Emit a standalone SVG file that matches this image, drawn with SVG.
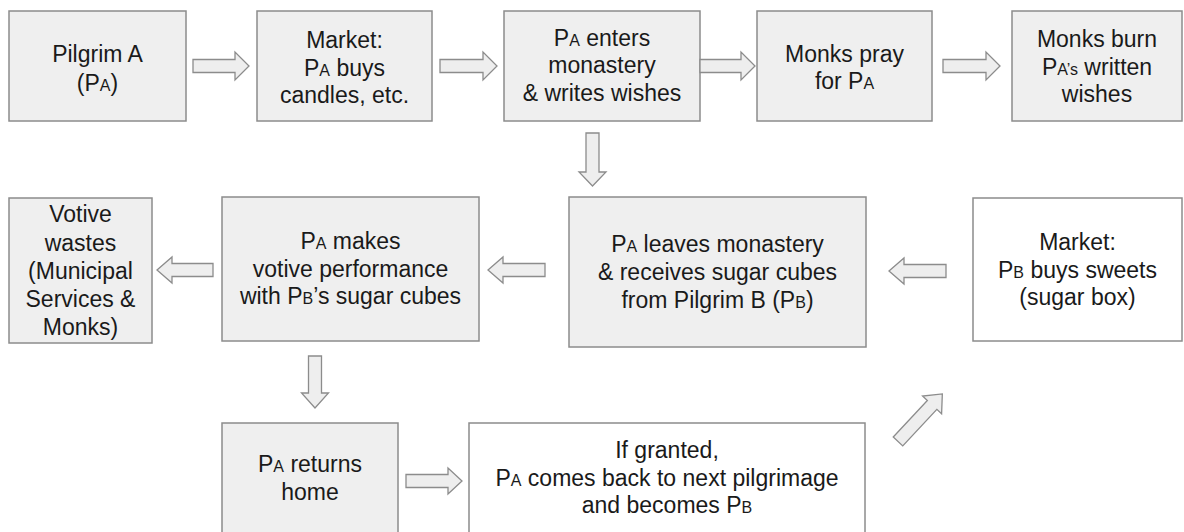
<svg xmlns="http://www.w3.org/2000/svg" width="1184" height="532" viewBox="0 0 1184 532">
<style>
.box{fill:#efefef;stroke:#8c8c8c;stroke-width:1.5}
.wbox{fill:#ffffff;stroke:#8c8c8c;stroke-width:1.5}
.arr{fill:#eeeeee;stroke:#8c8c8c;stroke-width:1.3;stroke-linejoin:miter}
text{font-family:"Liberation Sans",Arial,sans-serif;font-size:23px;fill:#1a1a1a;text-anchor:middle}
.s{font-size:16px}
</style>
<rect width="1184" height="532" fill="#ffffff"/>
<g id="n1"><rect class="box" x="9" y="11" width="177" height="110"/>
<text x="97.5" y="62">Pilgrim A</text><text x="97.5" y="91">(P<tspan class="s">A</tspan>)</text></g>
<g id="n2"><rect class="box" x="257" y="11" width="175" height="110"/>
<text x="344.5" y="48">Market:</text><text x="344.5" y="76">P<tspan class="s">A</tspan> buys</text><text x="344.5" y="103">candles, etc.</text></g>
<g id="n3"><rect class="box" x="504" y="11" width="196" height="110"/>
<text x="602" y="46">P<tspan class="s">A</tspan> enters</text><text x="602" y="73">monastery</text><text x="602" y="101">&amp; writes wishes</text></g>
<g id="n4"><rect class="box" x="757" y="11" width="175" height="110"/>
<text x="844.5" y="62">Monks pray</text><text x="844.5" y="89">for P<tspan class="s">A</tspan></text></g>
<g id="n5"><rect class="box" x="1012" y="11" width="170" height="110"/>
<text x="1097" y="47">Monks burn</text><text x="1097" y="75">P<tspan class="s">A’s</tspan> written</text><text x="1097" y="102">wishes</text></g>
<g id="n6"><rect class="box" x="9" y="198" width="143" height="145"/>
<text x="80.5" y="222">Votive</text><text x="80.5" y="251">wastes</text><text x="80.5" y="279">(Municipal</text><text x="80.5" y="307">Services &amp;</text><text x="80.5" y="335">Monks)</text></g>
<g id="n7"><rect class="box" x="222" y="197" width="257" height="144"/>
<text x="350.5" y="249">P<tspan class="s">A</tspan> makes</text><text x="350.5" y="277">votive performance</text><text x="350.5" y="304">with P<tspan class="s">B</tspan>’s sugar cubes</text></g>
<g id="n8"><rect class="box" x="569" y="197" width="297" height="150"/>
<text x="717.5" y="252">P<tspan class="s">A</tspan> leaves monastery</text><text x="717.5" y="280">&amp; receives sugar cubes</text><text x="717.5" y="308">from Pilgrim B (P<tspan class="s">B</tspan>)</text></g>
<g id="n9"><rect class="wbox" x="973" y="198" width="209" height="143"/>
<text x="1077.5" y="250">Market:</text><text x="1077.5" y="278">P<tspan class="s">B</tspan> buys sweets</text><text x="1077.5" y="305">(sugar box)</text></g>
<g id="n10"><rect class="box" x="222" y="423" width="176" height="120"/>
<text x="310" y="472">P<tspan class="s">A</tspan> returns</text><text x="310" y="500">home</text></g>
<g id="n11"><rect class="wbox" x="469" y="423" width="396" height="120"/>
<text x="667" y="458">If granted,</text><text x="667" y="486">P<tspan class="s">A</tspan> comes back to next pilgrimage</text><text x="667" y="513">and becomes P<tspan class="s">B</tspan></text></g>
<g id="connectors">
<path class="arr" d="M193,59.5 H235 V52 L249,66 L235,80 V72.5 H193 Z"/>
<path class="arr" d="M440,59.5 H483 V52 L497,66 L483,80 V72.5 H440 Z"/>
<path class="arr" d="M700,59.5 H741 V52 L755,66 L741,80 V72.5 H700 Z"/>
<path class="arr" d="M943,59.5 H986 V52 L1000,66 L986,80 V72.5 H943 Z"/>
<path class="arr" d="M586,133 H599 V172 H606 L592.5,186 L579,172 H586 Z"/>
<path class="arr" d="M213,263.5 H172 V257 L157,270 L172,283 V276.5 H213 Z"/>
<path class="arr" d="M545,263.5 H503 V257 L488,270 L503,283 V276.5 H545 Z"/>
<path class="arr" d="M946,264.5 H904 V258 L889,271 L904,284 V277.5 H946 Z"/>
<path class="arr" d="M308.5,356 H321.5 V393 H328.5 L315,408 L301.5,393 H308.5 Z"/>
<path class="arr" d="M406,474.5 H448 V468 L462,481 L448,494 V487.5 H406 Z"/>
<path class="arr" transform="translate(898,441.5) rotate(-47)" d="M0,-6.5 H50 V-13 L65,0 L50,13 V6.5 H0 Z"/>
</g>
</svg>
